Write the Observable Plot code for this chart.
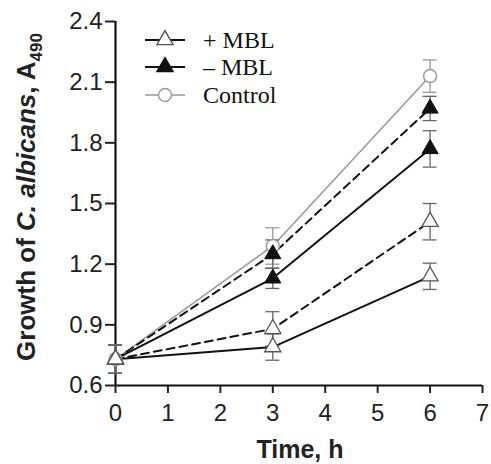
<!DOCTYPE html>
<html><head><meta charset="utf-8">
<script src="https://cdn.jsdelivr.net/npm/d3@7"></script>
<script src="https://cdn.jsdelivr.net/npm/@observablehq/plot@0.6"></script>
<style>body{margin:0;background:#fff} #chart svg{display:block}</style>
</head><body><div id="chart"></div>
<script>
const times = [0, 3, 6];
const xTicks = [0, 1, 2, 3, 4, 5, 6, 7];
const yTicks = [0.6, 0.9, 1.2, 1.5, 1.8, 2.1, 2.4];

const plusSolid = [0.73, 0.79, 1.14];
const plusSolidErr = [0.07, 0.065, 0.065];
const plusDashed = [0.73, 0.88, 1.41];
const plusDashedErr = [0.07, 0.085, 0.09];
const minusSolid = [0.73, 1.13, 1.77];
const minusSolidErr = [0.07, 0.05, 0.09];
const minusDashed = [0.73, 1.25, 1.97];
const minusDashedErr = [0.07, 0.07, 0.06];
const control = [0.73, 1.29, 2.13];
const controlErr = [0.07, 0.09, 0.08];

const legendLabels = ["+ MBL", "\u2013 MBL", "Control"];

function rows(vals, errs) {
  return times.map((t, i) => ({t, v: vals[i], lo: vals[i] - errs[i], hi: vals[i] + errs[i]}));
}
const sPlusSolid = rows(plusSolid, plusSolidErr);
const sPlusDashed = rows(plusDashed, plusDashedErr);
const sMinusSolid = rows(minusSolid, minusSolidErr);
const sMinusDashed = rows(minusDashed, minusDashedErr);
const sControl = rows(control, controlErr);

const GRAY = "#999";
const DARK = "#666";

function errMarks(data, color) {
  return [
    Plot.ruleX(data, {x: "t", y1: "lo", y2: "hi", stroke: color, strokeWidth: 1.3}),
    Plot.ruleY(data, {x1: "t", x2: "t", y: "lo", insetLeft: -7, insetRight: -7, stroke: color, strokeWidth: 1.3}),
    Plot.ruleY(data, {x1: "t", x2: "t", y: "hi", insetLeft: -7, insetRight: -7, stroke: color, strokeWidth: 1.3})
  ];
}

const plot = Plot.plot({
  width: 491, height: 464,
  marginLeft: 115, marginRight: 9, marginTop: 21, marginBottom: 79,
  x: {domain: [0, 7]},
  y: {domain: [0.6, 2.4]},
  style: {fontFamily: "'Liberation Sans', Arial, sans-serif", fontSize: "24px", color: "#222", background: "#fff", overflow: "visible"},
  marks: [
    Plot.axisX({ticks: xTicks, tickSize: 8, tickPadding: 10, label: null, tickFormat: d => d, strokeWidth: 2}),
    Plot.axisY({ticks: yTicks, tickSize: 10, tickPadding: 3, label: null, tickFormat: d => d.toFixed(1), strokeWidth: 2}),
    Plot.ruleX([0], {stroke: "#111", strokeWidth: 2.2}),
    Plot.ruleY([0.6], {stroke: "#111", strokeWidth: 2.2}),
    Plot.line(sControl, {x: "t", y: "v", stroke: GRAY, strokeWidth: 1.5}),
    Plot.line(sMinusDashed, {x: "t", y: "v", stroke: "#111", strokeWidth: 2, strokeDasharray: "8,5"}),
    Plot.line(sMinusSolid, {x: "t", y: "v", stroke: "#111", strokeWidth: 2}),
    Plot.line(sPlusDashed, {x: "t", y: "v", stroke: "#111", strokeWidth: 2, strokeDasharray: "8,5"}),
    Plot.line(sPlusSolid, {x: "t", y: "v", stroke: "#111", strokeWidth: 2}),
    ...errMarks(sControl, GRAY),
    ...errMarks(sMinusDashed, DARK),
    ...errMarks(sMinusSolid, DARK),
    ...errMarks(sPlusDashed, DARK),
    ...errMarks(sPlusSolid, DARK),
    Plot.dot(sControl, {x: "t", y: "v", r: 6.5, fill: "#fff", stroke: GRAY, strokeWidth: 1.5}),
    Plot.dot(sMinusDashed, {x: "t", y: "v", symbol: "triangle", r: 6, fill: "#111", stroke: "#111", strokeWidth: 1}),
    Plot.dot(sMinusSolid, {x: "t", y: "v", symbol: "triangle", r: 6, fill: "#111", stroke: "#111", strokeWidth: 1}),
    Plot.dot(sPlusDashed, {x: "t", y: "v", symbol: "triangle", r: 6, fill: "#fff", stroke: "#555", strokeWidth: 1.3}),
    Plot.dot(sPlusSolid, {x: "t", y: "v", symbol: "triangle", r: 6, fill: "#fff", stroke: "#555", strokeWidth: 1.3})
  ]
});

const svg = d3.select(plot);
// Y title
const yt = svg.append("text")
  .attr("transform", "translate(35,197) rotate(-90)")
  .attr("text-anchor", "middle")
  .attr("fill", "#222")
  .style("font-size", "26px").style("font-weight", "bold");
yt.append("tspan").text("Growth of ");
yt.append("tspan").style("font-style", "italic").text("C. albicans");
yt.append("tspan").text(", A");
yt.append("tspan").attr("dy", 7).style("font-size", "17px").text("490");
// X title
svg.append("text").attr("x", 300).attr("y", 458).attr("text-anchor", "middle")
  .attr("fill", "#222").style("font-size", "25px").style("font-weight", "bold").text("Time, h");

// Legend
const legendStyles = [
  {line: "#111", fill: "#fff", stroke: "#555", sym: d3.symbolTriangle},
  {line: "#111", fill: "#111", stroke: "#111", sym: d3.symbolTriangle},
  {line: GRAY, fill: "#fff", stroke: GRAY, sym: d3.symbolCircle}
];
const legendY = [40, 67, 95];
legendLabels.forEach((lab, i) => {
  const st = legendStyles[i];
  const g = svg.append("g").attr("transform", `translate(0,${legendY[i]})`);
  g.append("line").attr("x1", 145).attr("x2", 185).attr("stroke", st.line).attr("stroke-width", i === 2 ? 1.5 : 2);
  g.append("path").attr("transform", "translate(165,0)")
    .attr("d", d3.symbol(st.sym, Math.PI * (i === 2 ? 6.5 * 6.5 : 36))())
    .attr("fill", st.fill).attr("stroke", st.stroke).attr("stroke-width", 1.4);
  g.append("text").attr("x", 203).attr("y", 8).attr("fill", "#111")
    .attr("text-anchor", "start")
    .style("font-family", "'Liberation Serif', 'Times New Roman', serif")
    .style("font-weight", "normal").style("font-size", "24px").text(lab);
});

document.getElementById("chart").appendChild(plot);
</script>
</body></html>
